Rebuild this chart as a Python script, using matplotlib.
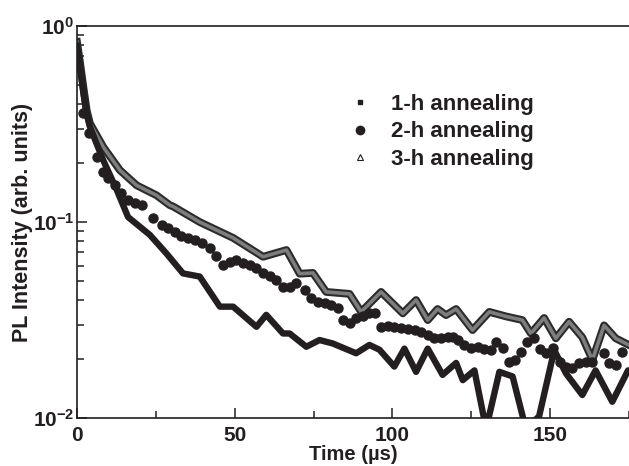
import matplotlib
matplotlib.use("Agg")
import matplotlib.pyplot as plt
import matplotlib.patheffects as pe
from matplotlib.lines import Line2D

# data (time in us, PL intensity)
t_1h = [0, 1, 2, 3, 4.1, 8.3, 12.6, 16.2, 23.1, 28.4, 33.6, 38.9, 45.3, 49.5, 56.9, 60.0,
        65.3, 67.4, 72.7, 76.9, 81.1, 88.5, 92.7, 95.9, 100.6, 103.8, 107.5, 111.2, 115.9,
        120.2, 122.3, 126.0, 129.7, 133.9, 138.1, 142.3, 146.5, 151.3, 155.0, 160.2, 164.4,
        169.7, 174.7]
pl_1h = [0.80, 0.62, 0.46, 0.36, 0.306, 0.207, 0.146, 0.106, 0.086, 0.069, 0.0547, 0.0527,
         0.037, 0.037, 0.0292, 0.0336, 0.027, 0.027, 0.0231, 0.025, 0.024, 0.0214, 0.0236,
         0.0223, 0.0183, 0.0226, 0.0172, 0.0226, 0.0166, 0.0191, 0.0156, 0.0175, 0.0088,
         0.0172, 0.0163, 0.0088, 0.0102, 0.0222, 0.0169, 0.0131, 0.0175, 0.0121, 0.0175]

t_2h = [2.0, 3.9, 6.2, 8.1, 9.9, 12.0, 14.1, 16.2, 18.4, 20.5, 24.1, 26.8, 28.9, 31.0, 33.1,
        35.2, 37.3, 39.5, 42.1, 44.2, 46.3, 48.4, 50.5, 52.6, 54.7, 56.9, 59.0, 61.1, 63.2,
        65.3, 67.4, 69.5, 72.2, 74.3, 76.4, 78.5, 80.6, 82.7, 84.3, 86.4, 88.5, 90.6, 92.7,
        94.6, 96.4, 98.5, 100.6, 102.7, 104.8, 107.0, 109.1, 111.2, 113.3, 115.4, 117.5,
        119.1, 120.7, 122.8, 124.9, 127.0, 129.1, 131.2, 132.8, 134.9, 136.8, 138.9, 140.7,
        142.8, 144.9, 146.7, 148.8, 150.9, 153.0, 155.0, 157.0, 159.2, 161.3, 163.4, 167.1,
        168.7, 170.8, 172.9]
pl_2h = [0.359, 0.284, 0.215, 0.181, 0.167, 0.154, 0.141, 0.129, 0.125, 0.122, 0.105, 0.0966,
         0.093, 0.089, 0.085, 0.0826, 0.081, 0.0785, 0.0734, 0.067, 0.0604, 0.0628, 0.064,
         0.062, 0.0604, 0.058, 0.0547, 0.053, 0.0506, 0.0468, 0.0468, 0.0487, 0.045, 0.0408,
         0.0392, 0.0385, 0.0377, 0.0363, 0.0316, 0.0304, 0.0324, 0.033, 0.0342, 0.0342,
         0.0292, 0.0295, 0.0292, 0.0288, 0.0284, 0.0281, 0.0276, 0.0265, 0.0255, 0.0255,
         0.026, 0.026, 0.025, 0.0236, 0.0227, 0.023, 0.0225, 0.0222, 0.0245, 0.0227, 0.0194,
         0.0197, 0.0218, 0.0245, 0.0255, 0.0225, 0.0214, 0.0227, 0.0194, 0.0183, 0.018,
         0.0191, 0.0194, 0.0194, 0.0214, 0.019, 0.0186, 0.0218]

t_3h = [0, 1, 2, 3.1, 4.1, 8.3, 13.6, 18.9, 25.2, 29.4, 30.5, 38.9, 49.5, 59.0, 66.4, 70.6,
        74.8, 79.0, 86.4, 90.1, 96.4, 103.3, 107.5, 111.2, 114.3, 117.0, 120.2, 125.4,
        130.7, 136.0, 141.2, 143.9, 148.1, 151.8, 156.0, 160.2, 163.4, 167.1, 170.8, 174.7]
pl_3h = [0.83, 0.645, 0.49, 0.37, 0.319, 0.242, 0.184, 0.154, 0.137, 0.122, 0.12, 0.1,
         0.083, 0.0665, 0.072, 0.0545, 0.055, 0.044, 0.043, 0.0348, 0.044, 0.0342, 0.04,
         0.0316, 0.036, 0.0335, 0.036, 0.0281, 0.0348, 0.033, 0.0316, 0.027, 0.0324,
         0.0255, 0.031, 0.0258, 0.0198, 0.0297, 0.0255, 0.0237]

series_labels = ["1-h annealing", "2-h annealing", "3-h annealing"]
x_ticks = [0, 50, 100, 150]
y_ticks = [1e-2, 1e-1, 1e0]
y_tick_labels = [r"$\mathbf{10^{-2}}$", r"$\mathbf{10^{-1}}$", r"$\mathbf{10^{0}}$"]

plt.rcParams["font.family"] = ["Liberation Sans", "DejaVu Sans"]
plt.rcParams["font.weight"] = "bold"
plt.rcParams["mathtext.fontset"] = "custom"
plt.rcParams["mathtext.rm"] = "Liberation Sans"
plt.rcParams["mathtext.bf"] = "Liberation Sans:bold"

ink = "#231f20"

fig = plt.figure(figsize=(6.29, 4.66), dpi=100)
ax = fig.add_axes([0.1224, 0.103, 0.8776, 0.841])

# 3-h: dense open triangles -> grey striped band with dark edge
ax.plot(t_3h, pl_3h, color="#7d7d7d", lw=2.6, zorder=2, solid_joinstyle="round",
        path_effects=[pe.Stroke(linewidth=5.6, foreground="#2b2b2b"), pe.Normal()])
# 1-h: dense small squares -> thick black curve
ax.plot(t_1h, pl_1h, color=ink, lw=4.6, zorder=3, solid_joinstyle="round",
        solid_capstyle="round")
# 2-h: filled circles
ax.plot(t_2h, pl_2h, ls="none", marker="o", ms=6.5, color=ink, zorder=4)

ax.set_yscale("log")
ax.set_xlim(0, 175)
ax.set_ylim(1e-2, 1e0)
ax.set_xticks(x_ticks)
ax.set_xticks([25, 75, 125, 175], minor=True)
ax.set_xticklabels([str(v) for v in x_ticks])
ax.set_yticks(y_ticks)
ax.set_yticklabels(y_tick_labels)

ax.tick_params(which="both", direction="in", colors=ink, labelsize=15, width=1.1)
ax.tick_params(which="major", length=7)
ax.tick_params(which="minor", length=5)
ax.tick_params(axis="x", which="major", pad=5.5)
ax.tick_params(axis="y", which="major", pad=2)
for side in ["left", "bottom", "top"]:
    ax.spines[side].set_linewidth(1.2)
    ax.spines[side].set_color(ink)
ax.spines["right"].set_visible(False)

ax.set_xlabel("Time (\u00b5s)", fontsize=14.5, fontweight="bold", color=ink, labelpad=0.5)
ax.set_ylabel("PL Intensity (arb. units)", fontsize=15.5, fontweight="bold", color=ink,
              labelpad=0)

handles = [
    Line2D([], [], ls="none", marker="s", ms=3, color=ink),
    Line2D([], [], ls="none", marker="o", ms=6, color=ink),
    Line2D([], [], ls="none", marker="^", ms=4, mfc="white", mec=ink, mew=0.8),
]
ax.legend(handles, series_labels, loc="upper left", bbox_to_anchor=(0.48, 0.85),
          frameon=False, fontsize=16, handletextpad=1.0, labelspacing=0.3,
          handlelength=0.8, labelcolor=ink, borderaxespad=0)

fig.savefig("out.png", dpi=100)
